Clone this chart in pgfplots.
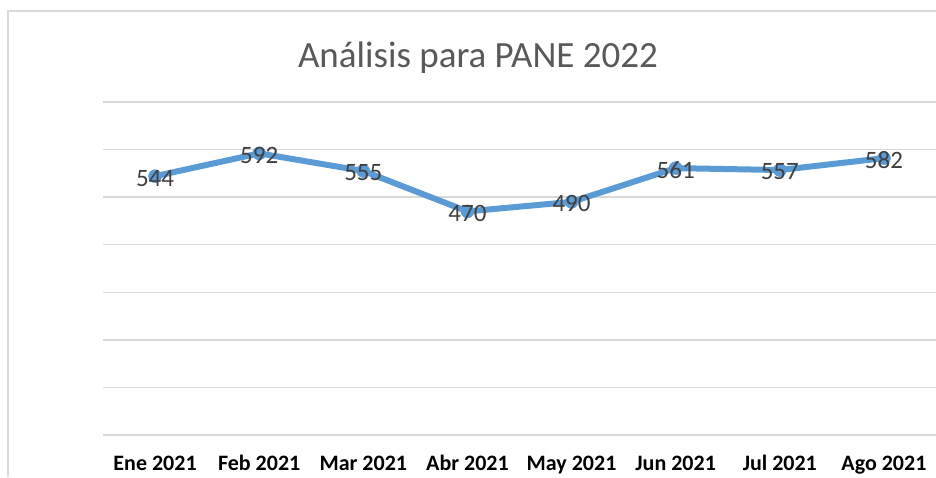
\documentclass[border=0pt]{standalone}
\usepackage{pgfplots}
\pgfplotsset{compat=1.18}
\usepackage{fontspec}
\setmainfont{Carlito}
\definecolor{lineblue}{HTML}{5B9BD5}
\definecolor{gridgray}{HTML}{D9D9D9}
\definecolor{titlegray}{HTML}{595959}
\definecolor{labelgray}{HTML}{404040}
\begin{document}
\begin{tikzpicture}[x=1pt,y=1pt]
\useasboundingbox (0,0) rectangle (936,477);
\fill[white] (0,0) rectangle (936,477);
\draw[gridgray, line width=1.5pt] (8,0) -- (8,466) -- (936,466);
\begin{axis}[
  at={(103pt,42pt)}, anchor=south west,
  scale only axis, width=833pt, height=333pt,
  xmin=-0.5, xmax=7.5, ymin=0, ymax=700,
  xtick={0,...,7},
  xticklabels={Ene 2021,Feb 2021,Mar 2021,Abr 2021,May 2021,Jun 2021,Jul 2021,Ago 2021},
  ytick={0,100,...,700}, yticklabels={},
  ymajorgrids, grid style={gridgray, line width=1.5pt},
  axis line style={draw=none}, major tick length=0pt,
  xticklabel style={font=\fontsize{22}{26}\selectfont\bfseries, text=black, anchor=base, yshift=-35pt},
  clip=false,
  /pgf/number format/assume math mode=true,
  nodes near coords,
  every node near coord/.append style={anchor=center, yshift=-2pt, font=\fontsize{25}{28}\selectfont, text=labelgray},
]
\addplot[lineblue, line width=6pt, mark=*, mark size=6.5pt,
  mark options={fill=lineblue, draw=lineblue, line width=0.5pt}]
  coordinates {(0,544) (1,592) (2,555) (3,470) (4,490) (5,561) (6,557) (7,582)};
\end{axis}
\node[text=titlegray, font=\fontsize{37}{42}\selectfont] at (478,419) {Análisis para PANE 2022};
\end{tikzpicture}
\end{document}
